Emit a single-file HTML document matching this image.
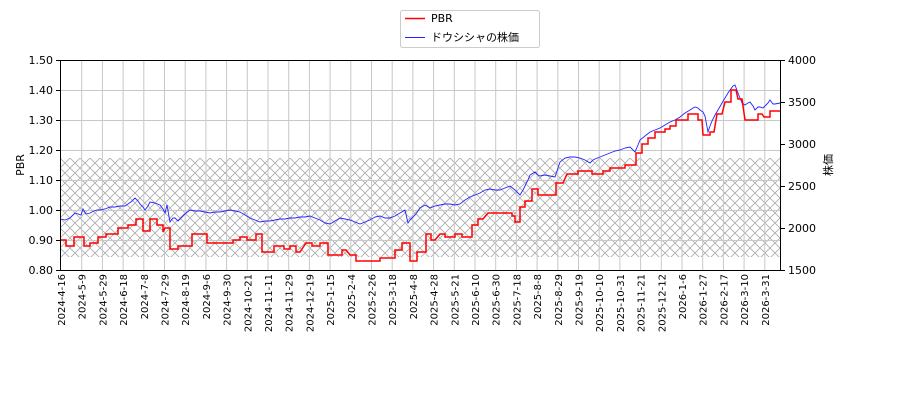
<!DOCTYPE html>
<html><head><meta charset="utf-8"><style>body{margin:0;background:#fff}</style></head><body>
<svg width="900" height="400" xmlns="http://www.w3.org/2000/svg" font-family="'DejaVu Sans','Noto Sans CJK JP',sans-serif" font-size="11">
<defs>
<pattern id="h" width="10" height="10" patternUnits="userSpaceOnUse" x="60" y="158">
<path d="M0,0L10,10M10,0L0,10" stroke="#aaa" stroke-width="0.8"/>
</pattern>
</defs>
<rect x="60" y="158" width="720" height="99" fill="url(#h)"/>
<g stroke="#c8c8c8" stroke-width="1">
<path d="M60,90.5H780M60,120.5H780M60,150.5H780M60,180.5H780M60,210.5H780M60,240.5H780"/>
<g id="vg"></g>
</g>
<g stroke="#c8c8c8">
<path d="M81.7,60V270M102.4,60V270M123.1,60V270M143.8,60V270M164.5,60V270M185.2,60V270M205.9,60V270M226.6,60V270M247.3,60V270M268,60V270M288.7,60V270M309.4,60V270M330.1,60V270M350.8,60V270M371.5,60V270M392.2,60V270M412.9,60V270M433.6,60V270M454.3,60V270M475,60V270M495.7,60V270M516.4,60V270M537.1,60V270M557.8,60V270M578.5,60V270M599.2,60V270M619.9,60V270M640.6,60V270M661.3,60V270M682,60V270M702.7,60V270M723.4,60V270M744.1,60V270M764.8,60V270"/>
</g>
<polyline fill="none" stroke="#2222ff" stroke-width="0.9" points="61,219 65,220 70,218 75,213 78,214 81,215 83,209 86,214 90,213 94,211 97,210 100,210 105,209 110,207 115,207 120,206 125,206 128,204 132,201 135,198 138,201 140,204 143,207 145,210 148,206 150,202 155,203 160,205 163,209 165,213 167,205 170,222 173,218 175,218 178,221 180,219 185,214 190,210 195,211 200,211 205,212 210,213 215,212 220,212 225,211 230,210 235,211 240,212 245,215 250,218 255,220 260,222 265,221 270,221 275,220 280,219 285,219 290,218 295,218 300,217 305,217 310,216 315,218 320,220 325,223 330,224 335,221 340,218 345,219 350,220 355,222 360,224 365,222 370,220 375,217 380,216 385,218 390,218 395,216 400,213 405,210 408,223 410,220 412,218 416,214 420,208 425,205 430,208 435,206 440,205 445,204 450,204 455,205 460,204 465,200 470,197 475,195 480,193 485,190 490,189 495,190 500,190 505,188 510,186 515,190 520,195 523,190 525,186 528,180 530,175 535,172 538,175 540,176 545,175 550,176 555,177 558,168 560,162 565,158 570,157 575,157 580,158 585,160 590,163 593,160 595,159 600,157 605,155 610,153 615,151 620,150 625,148 630,147 635,152 638,145 640,140 645,136 650,132 655,130 660,128 665,125 670,122 675,120 680,117 685,113 690,110 693,108 695,107 698,108 700,110 703,112 705,116 708,132 710,126 712,121 715,115 718,110 722,103 725,98 728,93 730,90 733,86 735,85 738,93 740,98 742,103 745,105 748,103 750,102 753,106 755,110 758,107 760,107 763,108 765,106 768,103 770,100 773,104 775,104 780,103"/>
<polyline fill="none" stroke="#ff0000" stroke-width="1.5" points="61,240 66,240 66,246 74,246 74,237 84,237 84,246 90,246 90,243 98,243 98,237 106,237 106,234 118,234 118,228 128,228 128,225 136,225 136,219 143,219 143,231 150,231 150,219 157,219 157,225 163,225 163,232 165,228 170,228 170,249 178,249 178,246 192,246 192,234 207,234 207,243 233,243 233,240 240,240 240,237 247,237 247,240 256,240 256,234 262,234 262,252 274,252 274,246 284,246 284,249 290,249 290,246 296,246 296,252 300,252 306,243 312,243 312,246 320,246 320,243 328,243 328,255 342,255 342,250 346,250 350,255 356,255 356,261 380,261 380,258 395,258 395,250 402,250 402,243 410,243 410,261 417,261 417,252 426,252 426,234 431,234 431,240 435,240 440,234 445,234 445,237 455,237 455,234 462,234 462,237 472,237 472,225 478,225 478,219 483,219 488,213 500,213 512,213 512,216 515,216 515,222 520,222 520,207 525,207 525,201 532,201 532,189 538,189 538,195 556,195 556,183 563,183 567,174 578,174 578,171 592,171 592,174 603,174 603,171 610,171 610,168 625,168 625,165 636,165 636,153 642,153 642,144 648,144 648,138 655,138 655,132 665,132 665,129 670,129 670,126 676,126 676,120 688,120 688,114 698,114 698,120 702,120 703,135 710,135 710,132 714,132 717,114 722,114 725,102 731,102 731,90 736,90 738,99 742,99 745,120 758,120 758,114 762,114 764,117 770,117 770,111 780,111"/>
<rect x="60.5" y="60.5" width="720" height="210" fill="none" stroke="#000"/>
<g stroke="#000">
<path d="M60,60.5h-4M60,90.5h-4M60,120.5h-4M60,150.5h-4M60,180.5h-4M60,210.5h-4M60,240.5h-4M60,270.5h-4"/>
<path d="M781,60.5h4M781,102.5h4M781,144.5h4M781,186.5h4M781,228.5h4M781,270.5h4"/>
</g>
<g text-anchor="end" fill="#000">
<text x="53" y="64">1.50</text><text x="53" y="94">1.40</text><text x="53" y="124">1.30</text><text x="53" y="154">1.20</text><text x="53" y="184">1.10</text><text x="53" y="214">1.00</text><text x="53" y="244">0.90</text><text x="53" y="274">0.80</text>
</g>
<g fill="#000">
<text x="788" y="64">4000</text><text x="788" y="106">3500</text><text x="788" y="148">3000</text><text x="788" y="190">2500</text><text x="788" y="232">2000</text><text x="788" y="274">1500</text>
</g>
<text transform="translate(24,165) rotate(-90)" text-anchor="middle">PBR</text>
<text transform="translate(832,165) rotate(-90)" text-anchor="middle">株価</text>
<g font-size="10" fill="#000" text-anchor="end">
<text transform="translate(65,274) rotate(-90)">2024-4-16</text>
<text transform="translate(85.7,274) rotate(-90)">2024-5-9</text>
<text transform="translate(106.4,274) rotate(-90)">2024-5-29</text>
<text transform="translate(127.1,274) rotate(-90)">2024-6-18</text>
<text transform="translate(147.8,274) rotate(-90)">2024-7-8</text>
<text transform="translate(168.5,274) rotate(-90)">2024-7-29</text>
<text transform="translate(189.2,274) rotate(-90)">2024-8-19</text>
<text transform="translate(209.9,274) rotate(-90)">2024-9-6</text>
<text transform="translate(230.6,274) rotate(-90)">2024-9-30</text>
<text transform="translate(251.3,274) rotate(-90)">2024-10-21</text>
<text transform="translate(272,274) rotate(-90)">2024-11-11</text>
<text transform="translate(292.7,274) rotate(-90)">2024-11-29</text>
<text transform="translate(313.4,274) rotate(-90)">2024-12-19</text>
<text transform="translate(334.1,274) rotate(-90)">2025-1-15</text>
<text transform="translate(354.8,274) rotate(-90)">2025-2-4</text>
<text transform="translate(375.5,274) rotate(-90)">2025-2-26</text>
<text transform="translate(396.2,274) rotate(-90)">2025-3-18</text>
<text transform="translate(416.9,274) rotate(-90)">2025-4-8</text>
<text transform="translate(437.6,274) rotate(-90)">2025-4-28</text>
<text transform="translate(458.3,274) rotate(-90)">2025-5-21</text>
<text transform="translate(479,274) rotate(-90)">2025-6-10</text>
<text transform="translate(499.7,274) rotate(-90)">2025-6-30</text>
<text transform="translate(520.4,274) rotate(-90)">2025-7-18</text>
<text transform="translate(541.1,274) rotate(-90)">2025-8-8</text>
<text transform="translate(561.8,274) rotate(-90)">2025-8-29</text>
<text transform="translate(582.5,274) rotate(-90)">2025-9-19</text>
<text transform="translate(603.2,274) rotate(-90)">2025-10-10</text>
<text transform="translate(623.9,274) rotate(-90)">2025-10-31</text>
<text transform="translate(644.6,274) rotate(-90)">2025-11-21</text>
<text transform="translate(665.3,274) rotate(-90)">2025-12-12</text>
<text transform="translate(686,274) rotate(-90)">2026-1-6</text>
<text transform="translate(706.7,274) rotate(-90)">2026-1-27</text>
<text transform="translate(727.4,274) rotate(-90)">2026-2-17</text>
<text transform="translate(748.1,274) rotate(-90)">2026-3-10</text>
<text transform="translate(768.8,274) rotate(-90)">2026-3-31</text>
</g>
<rect x="400.5" y="10.5" width="139" height="37" fill="#fff" stroke="#ccc" rx="2"/>
<path d="M405,18.5h20" stroke="#ff0000" stroke-width="1.5"/>
<path d="M405,37.5h20" stroke="#2222ff" stroke-width="1"/>
<text x="431" y="22" fill="#000">PBR</text>
<text x="431" y="41" fill="#000">ドウシシャの株価</text>
</svg>
</body></html>
